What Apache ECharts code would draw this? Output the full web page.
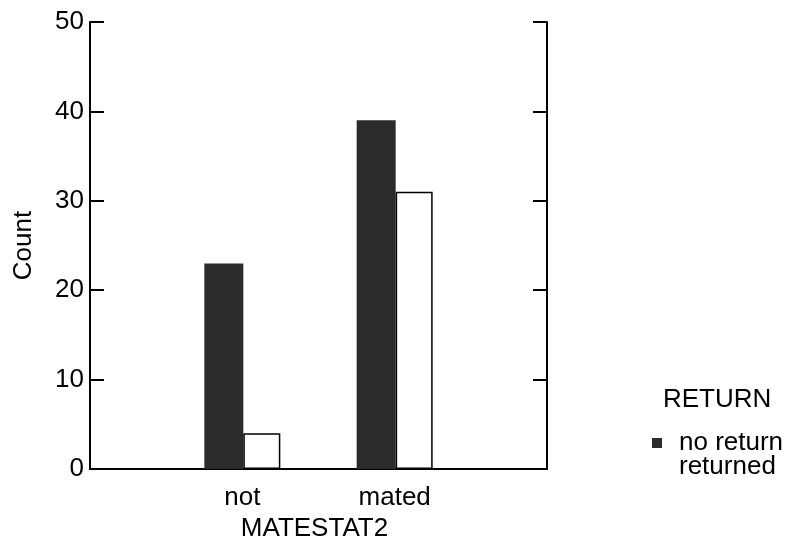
<!DOCTYPE html>
<html>
<head>
<meta charset="utf-8">
<script src="https://cdn.jsdelivr.net/npm/echarts@6/dist/echarts.min.js"></script>
<style>html,body{margin:0;padding:0;background:#fff;}#c{width:791px;height:542px;}</style>
</head>
<body>
<div id="c"></div>
<script>
const categories = ['', 'not', 'mated', ''];
const noReturn = [null, 23, 39, null];
const returned = [null, 4, 31, null];
const yTicks = { min: 0, max: 50, interval: 10 };
const FONT = 'Liberation Sans';
const FS = 26;

const chart = echarts.init(document.getElementById('c'));
chart.setOption({
  animation: false,
  textStyle: { fontFamily: FONT, color: '#000' },
  title: {
    text: 'RETURN', left: 658, top: 382,
    textStyle: { fontFamily: FONT, fontSize: FS, fontWeight: 'normal', color: '#000' }
  },
  legend: {
    orient: 'vertical', left: 647, top: 425, itemGap: -2,
    itemWidth: 10, itemHeight: 10,
    textStyle: { fontFamily: FONT, fontSize: FS, color: '#000', padding: [0, 0, 0, 12] },
    data: [
      { name: 'no return', icon: 'rect' },
      { name: 'returned', icon: 'rect', itemStyle: { color: '#fff', borderWidth: 0, opacity: 0 } }
    ]
  },
  grid: { left: 90, right: 244, top: 22, bottom: 73, containLabel: false, outerBoundsMode: 'none' },
  xAxis: [
    {
      type: 'category', data: categories, boundaryGap: false,
      axisLine: { lineStyle: { color: '#000', width: 2 } },
      axisTick: { show: false },
      axisLabel: { fontFamily: FONT, fontSize: FS, color: '#000', margin: 16 },
      name: 'MATESTAT2', nameLocation: 'middle', nameGap: 46,
      nameTextStyle: { fontFamily: FONT, fontSize: FS, color: '#000', padding: [0, 8, 0, 0] }
    },
    {
      type: 'category', data: categories, boundaryGap: false, position: 'top',
      axisLine: { lineStyle: { color: '#000', width: 2 } },
      axisTick: { show: false }, axisLabel: { show: false }
    }
  ],
  yAxis: [
    {
      type: 'value', min: yTicks.min, max: yTicks.max, interval: yTicks.interval,
      axisLine: { show: true, lineStyle: { color: '#000', width: 2 } },
      axisTick: { show: true, inside: true, length: 14, lineStyle: { color: '#000', width: 2 } },
      axisLabel: { fontFamily: FONT, fontSize: FS, color: '#000', margin: 6 },
      splitLine: { show: false },
      name: 'Count', nameLocation: 'middle', nameGap: 53,
      nameTextStyle: { fontFamily: FONT, fontSize: FS, color: '#000' }
    },
    {
      type: 'value', min: yTicks.min, max: yTicks.max, interval: yTicks.interval, position: 'right',
      axisLine: { show: true, lineStyle: { color: '#000', width: 2 } },
      axisTick: { show: true, inside: true, length: 14, lineStyle: { color: '#000', width: 2 } },
      axisLabel: { show: false },
      splitLine: { show: false }
    }
  ],
  series: [
    {
      name: 'no return', type: 'bar', data: noReturn, barWidth: 39, barGap: '0%',
      itemStyle: { color: '#2b2b2b' }
    },
    {
      name: 'returned', type: 'bar', data: returned, barWidth: 37, barGap: '0%',
      itemStyle: { color: '#fff', borderColor: '#000', borderWidth: 1.5 }
    }
  ]
});
</script>
</body>
</html>
